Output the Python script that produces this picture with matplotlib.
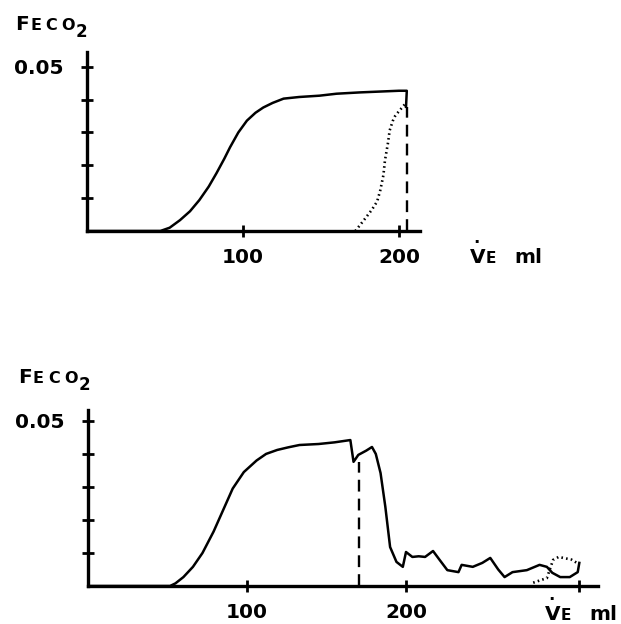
import matplotlib
matplotlib.use("Agg")
import matplotlib.pyplot as plt

# ---------------- data ----------------
top_solid_x = [0, 47, 53, 59.6, 66, 72, 78, 83, 88, 91.7, 97, 102.5, 108, 113, 119, 126, 136, 149,
               160, 175, 190, 200, 205, 204.5]
top_solid_y = [0, 0, 0.001, 0.0033, 0.006, 0.0094, 0.0135, 0.0176, 0.022, 0.0255, 0.030, 0.0336,
               0.036, 0.0376, 0.039, 0.0403, 0.0408, 0.0412, 0.0418, 0.0422, 0.0425, 0.0427,
               0.0427, 0.0378]
top_dot_x = [172, 177, 182.5, 186, 188, 190, 191, 193, 194, 196, 197.5, 200, 202, 204.5]
top_dot_y = [0, 0.003, 0.0064, 0.009, 0.0124, 0.017, 0.0215, 0.027, 0.0306, 0.0335, 0.035,
             0.0365, 0.0376, 0.039]
top_dash_x = 205
top_dash_top = 0.0378

bot_solid_x = [0, 51.6, 55, 60, 66, 72, 79, 85, 91, 98, 106, 112, 119, 126, 133, 145, 155, 165, 167,
               170, 175, 178.6, 181, 184, 187, 190, 194, 198, 200, 204, 208, 212, 217, 221, 226,
               233, 235, 242, 248, 253, 258, 262, 267, 276, 284, 288.6, 292, 297, 303, 308, 309]
bot_solid_y = [0, 0, 0.0008, 0.0027, 0.0058, 0.010, 0.0165, 0.023, 0.0295, 0.0345, 0.038, 0.040,
               0.0412, 0.042, 0.0427, 0.043, 0.0435, 0.0442, 0.0376, 0.0397, 0.041, 0.0421, 0.040,
               0.0342, 0.024, 0.0118, 0.0073, 0.0058, 0.0103, 0.0088, 0.009, 0.0088, 0.0106,
               0.008, 0.0048, 0.0042, 0.0064, 0.0058, 0.007, 0.0085, 0.005, 0.0027, 0.0042,
               0.0048, 0.0064, 0.0058, 0.004, 0.0027, 0.0027, 0.0042, 0.007]
bot_dot_x = [280, 288.6, 292.5, 296, 299, 304, 307.5]
bot_dot_y = [0.001, 0.0024, 0.0079, 0.0088, 0.0085, 0.008, 0.007]
bot_dash_x = 170.6
bot_dash_top = 0.0376

y_ticks = [0.01, 0.02, 0.03, 0.04, 0.05]
y_tick_labels = ["", "", "", "", "0.05"]
top_x_ticks = [100, 200]
top_x_labels = ["100", "200"]
bot_x_ticks = [100, 200, 309]
bot_x_labels = ["100", "200", ""]

W, H = 621, 624
plt.rcParams['font.family'] = ['DejaVu Sans']
fig = plt.figure(figsize=(W / 100, H / 100), dpi=100)

def rect(x0, y_bottom, x1, y_top):
    return [x0 / W, 1 - y_bottom / H, (x1 - x0) / W, (y_bottom - y_top) / H]

def ptext(x, y, s, size, **kw):
    fig.text(x / W, 1 - y / H, s, fontsize=size, fontweight='bold', va='baseline', ha='left', **kw)

def style(ax, xlim, ylim, xt, xl):
    ax.set_xlim(*xlim)
    ax.set_ylim(*ylim)
    for s in ['top', 'right']:
        ax.spines[s].set_visible(False)
    for s in ['left', 'bottom']:
        ax.spines[s].set_linewidth(2.4)
    ax.set_yticks(y_ticks)
    ax.set_yticklabels(y_tick_labels)
    ax.set_xticks(xt)
    ax.set_xticklabels(xl)
    ax.tick_params(direction='inout', length=8, width=2, labelsize=14.5, pad=8)
    ax.tick_params(axis='y', pad=13)
    for lab in ax.get_xticklabels() + ax.get_yticklabels():
        lab.set_fontweight('bold')
    ax.patch.set_visible(False)

# top panel
ax1 = fig.add_axes(rect(87, 231, 87 + 213.5 * 1.56, 52))
ax1.plot(top_solid_x, top_solid_y, color='black', lw=1.8)
ax1.plot(top_dot_x, top_dot_y, color='black', lw=1.9, ls=(0, (0.6, 1.2)))
ax1.plot([top_dash_x, top_dash_x], [0, top_dash_top], color='black', lw=1.7, ls=(0, (5, 3)))
style(ax1, (0, 213.5), (0, 0.0545), top_x_ticks, top_x_labels)

# bottom panel
ax2 = fig.add_axes(rect(88, 586, 88 + 321 * 1.59, 410))
ax2.plot(bot_solid_x, bot_solid_y, color='black', lw=1.8)
ax2.plot(bot_dot_x, bot_dot_y, color='black', lw=1.9, ls=(0, (0.6, 1.2)))
ax2.plot([bot_dash_x, bot_dash_x], [0, bot_dash_top], color='black', lw=1.7, ls=(0, (5, 3)))
style(ax2, (0, 321), (0, 0.0533), bot_x_ticks, bot_x_labels)

# axis titles (F + small-caps ECO + subscript 2)
for (fx, fy) in [(15, 30), (18, 383)]:
    ptext(fx, fy, "F", 14.5)
    ptext(fx + 15, fy, "E", 11.5)
    ptext(fx + 30, fy, "C", 11.5)
    ptext(fx + 46, fy, "O", 11.5)
    ptext(fx + 61, fy + 7, "2", 12)

for (vx, vy) in [(470, 263), (545, 620)]:
    ptext(vx, vy, "V", 14.5)
    ptext(vx + 16, vy, "E", 11)
    ptext(vx + 44, vy, "ml", 14.5)
    ptext(vx + 3, vy - 20, ".", 12)

fig.savefig("out.png", dpi=100)
